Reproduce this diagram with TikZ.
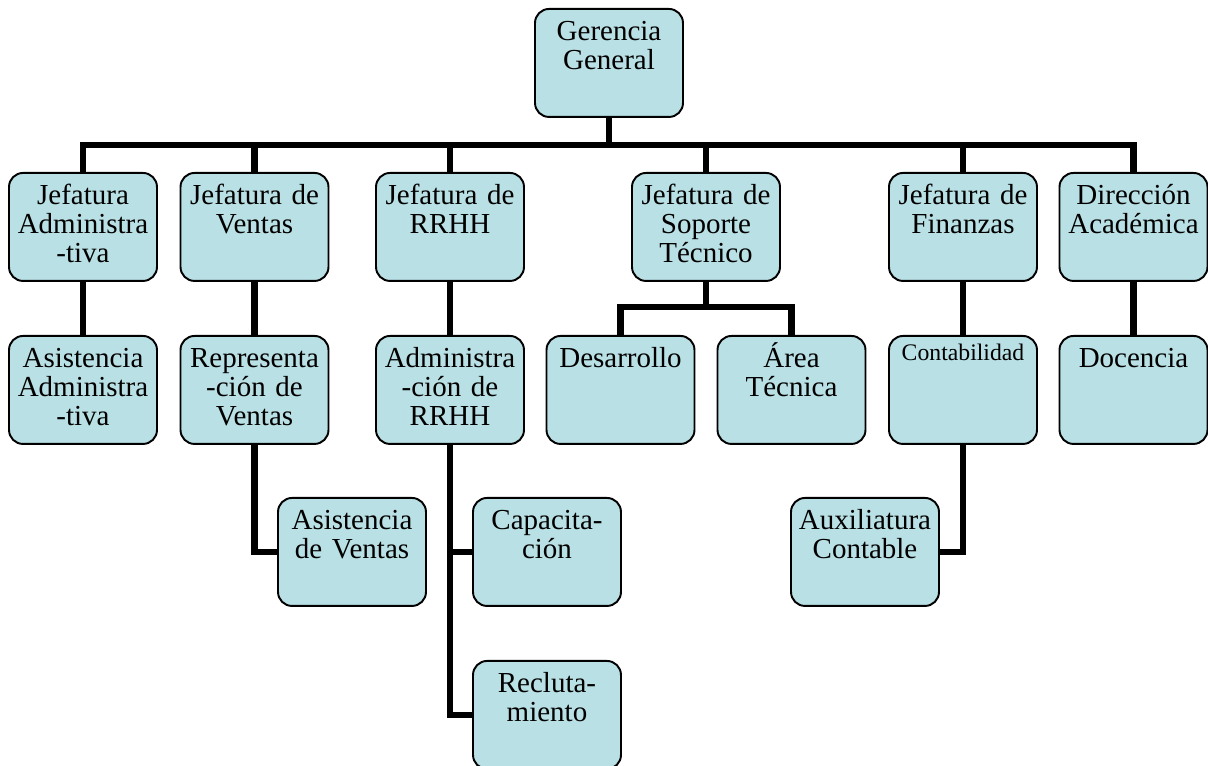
\documentclass[tikz,border=0pt]{standalone}
\usepackage{fontspec}
\setmainfont{Liberation Serif}
\usetikzlibrary{positioning}
\definecolor{boxfill}{RGB}{185,224,228}

\begin{document}
\begin{tikzpicture}[
  x=0.02cm, y=-0.02cm,
  unit/.style={draw, line width=1.1pt, rounded corners=0.28cm, fill=boxfill,
    anchor=north, text width=2.96cm, align=center, inner sep=0pt,
    text height=0.63cm, text depth=1.53cm, font=\fontsize{16.5}{16.6}\selectfont},
  link/.style={draw, line width=3.6pt}
]
  \useasboundingbox (0,0) rectangle (1208,766);

  % top
  \node[unit] (gg) at (609,8) {Gerencia\\General};

  % first level
  \node[unit] (ja) at (83,172)    {Jefatura\\Administra\\-tiva};
  \node[unit] (jv) at (254.5,172) {Jefatura de\\Ventas};
  \node[unit] (jr) at (450,172)   {Jefatura de\\RRHH};
  \node[unit] (js) at (706,172)   {Jefatura de\\Soporte\\Técnico};
  \node[unit] (jf) at (963,172)   {Jefatura de\\Finanzas};
  \node[unit] (da) at (1133.5,172) {Dirección\\Académica};

  % second level
  \node[unit] (aa) at (83,335)    {Asistencia\\Administra\\-tiva};
  \node[unit] (rv) at (254.5,335) {Representa\\-ción de\\Ventas};
  \node[unit] (ar) at (450,335)   {Administra\\-ción de\\RRHH};
  \node[unit] (de) at (620.5,335) {Desarrollo};
  \node[unit] (at) at (791.5,335) {Área\\Técnica};
  \node[unit, text height=0.5cm, text depth=1.66cm,
        font=\fontsize{13.5}{15}\selectfont] (co) at (963,335) {Contabilidad};
  \node[unit] (do) at (1133.5,335) {Docencia};

  % third level
  \node[unit] (av) at (352,497) {Asistencia\\de Ventas};
  \node[unit] (ca) at (547,497) {Capacita-\\ción};
  \node[unit] (ax) at (865,497) {Auxiliatura\\Contable};
  \node[unit] (re) at (547,660) {Recluta-\\miento};

  % connectors
  \coordinate (bus) at (609,145);
  \coordinate (sbus) at (706,307);
  \draw[link] (gg.south) -- (bus);
  \draw[link] (ja.north) |- (bus) -| (da.north);
  \draw[link] (jv.north) -- (jv.north |- bus);
  \draw[link] (jr.north) -- (jr.north |- bus);
  \draw[link] (js.north) -- (js.north |- bus);
  \draw[link] (jf.north) -- (jf.north |- bus);

  \draw[link] (ja.south) -- (aa.north);
  \draw[link] (jv.south) -- (rv.north);
  \draw[link] (jr.south) -- (ar.north);
  \draw[link] (jf.south) -- (co.north);
  \draw[link] (da.south) -- (do.north);
  \draw[link] (js.south) -- (sbus);
  \draw[link] (de.north) |- (sbus) -| (at.north);

  \draw[link] (rv.south) |- (av.west);
  \draw[link] (ar.south) |- (ca.west);
  \draw[link] (ar.south) |- (re.west);
  \draw[link] (co.south) |- (ax.east);
\end{tikzpicture}
\end{document}
